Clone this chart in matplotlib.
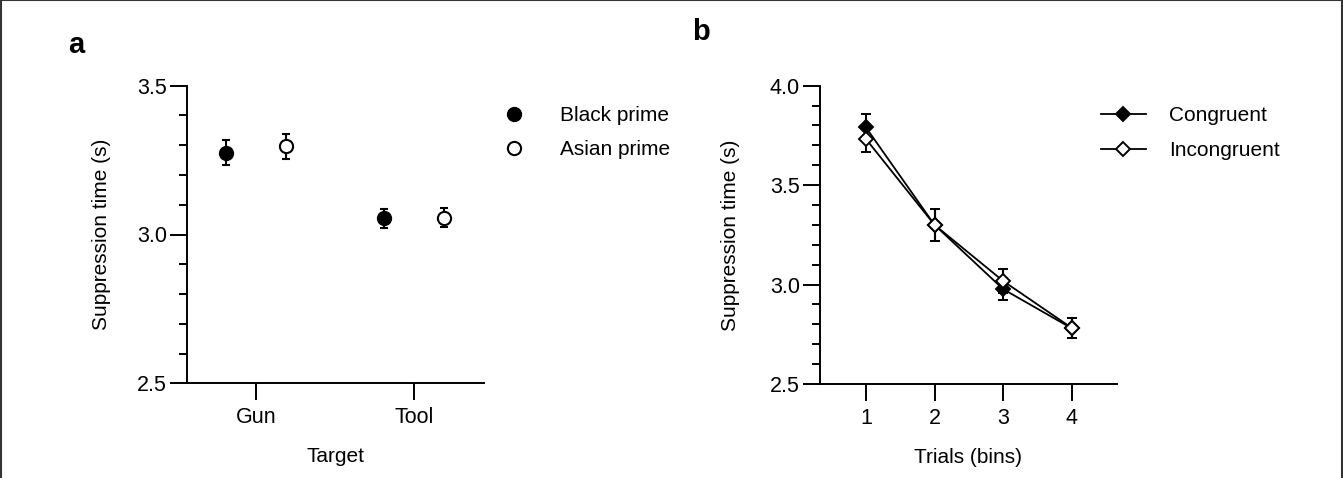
import matplotlib
matplotlib.use("Agg")
import matplotlib.pyplot as plt
from matplotlib.lines import Line2D
from matplotlib.ticker import MultipleLocator

# panel a: suppression time by target and prime
targets = ["Gun", "Tool"]
black_mean = [3.275, 3.055]
black_err = [0.043, 0.032]
asian_mean = [3.296, 3.057]
asian_err = [0.042, 0.032]

# panel b: suppression time across trial bins
bins = [1, 2, 3, 4]
congruent_mean = [3.79, 3.30, 2.977, 2.78]
congruent_err = [0.068, 0.082, 0.057, 0.05]
incongruent_mean = [3.732, 3.30, 3.018, 2.782]
incongruent_err = [0.066, 0.082, 0.06, 0.05]

plt.rcParams.update(
    {
        "font.family": ["Liberation Sans", "DejaVu Sans"],
        "font.size": 15,
        "axes.linewidth": 1.4,
    }
)

W, H = 1343, 478


def style(ax) -> None:
    ax.spines["top"].set_visible(False)
    ax.spines["right"].set_visible(False)
    ax.tick_params(which="major", length=12, width=1.4, pad=2.5, labelsize=15.5, direction="out")
    ax.tick_params(which="minor", length=6, width=1.4, direction="out")
    ax.tick_params(axis="x", which="major", pad=5)


fig = plt.figure(figsize=(W / 100, H / 100), dpi=100)
ax_a = fig.add_axes([187 / W, 1 - 383.3 / H, 297 / W, 297.6 / H])
ax_b = fig.add_axes([820 / W, 1 - 384 / H, 297 / W, 298.3 / H])

# ---- panel a
off = 0.19
xg = range(len(targets))
ax_a.errorbar([x - off for x in xg], black_mean, yerr=black_err, fmt="o", color="black",
              markersize=9.5, markerfacecolor="black", markeredgewidth=1.5,
              elinewidth=1.5, capsize=2.9, capthick=1.6, zorder=3)
ax_a.errorbar([x + off for x in xg], asian_mean, yerr=asian_err, fmt="o", color="black",
              markersize=9.5, markerfacecolor="white", markeredgewidth=1.5,
              elinewidth=1.5, capsize=2.9, capthick=1.6, zorder=3)
ax_a.set_xlim(-0.437, 1.443)
ax_a.set_ylim(2.5, 3.5)
ax_a.set_xticks(list(xg))
ax_a.set_xticklabels(targets)
ax_a.set_yticks([2.5, 3.0, 3.5])
ax_a.yaxis.set_minor_locator(MultipleLocator(0.1))
ax_a.set_ylabel("Suppression time (s)")
ax_a.set_xlabel("Target")
ax_a.yaxis.set_label_coords(-0.255, 0.5)
ax_a.xaxis.set_label_coords(0.5, -0.213)
ax_a.yaxis.label.set_va("bottom")
ax_a.xaxis.label.set_va("top")
style(ax_a)

handles_a = [
    Line2D([], [], marker="o", ls="none", color="black", markerfacecolor="black",
           markersize=9.5, markeredgewidth=1.5),
    Line2D([], [], marker="o", ls="none", color="black", markerfacecolor="white",
           markersize=9.5, markeredgewidth=1.5),
]
fig.legend(handles_a, ["Black prime", "Asian prime"], loc="upper left",
           bbox_to_anchor=(492 / W, 1 - 106 / H), frameon=False, borderpad=0,
           borderaxespad=0, handlelength=2.15, handletextpad=1.1, labelspacing=0.72,
           fontsize=15)

# ---- panel b
ax_b.errorbar(bins, congruent_mean, yerr=congruent_err, fmt="-D", color="black",
              markersize=7, markerfacecolor="black", markeredgewidth=1.4, linewidth=1.3,
              elinewidth=1.5, capsize=3.6, capthick=2.2, zorder=3)
ax_b.errorbar(bins, incongruent_mean, yerr=incongruent_err, fmt="-D", color="black",
              markersize=7, markerfacecolor="white", markeredgewidth=1.4, linewidth=1.3,
              elinewidth=1.5, capsize=3.6, capthick=2.2, zorder=4)
ax_b.set_xlim(0.33, 4.66)
ax_b.set_ylim(2.5, 4.0)
ax_b.set_xticks(bins)
ax_b.set_yticks([2.5, 3.0, 3.5, 4.0])
ax_b.yaxis.set_minor_locator(MultipleLocator(0.1))
ax_b.set_ylabel("Suppression time (s)")
ax_b.set_xlabel("Trials (bins)")
ax_b.yaxis.set_label_coords(-0.27, 0.5)
ax_b.xaxis.set_label_coords(0.5, -0.213)
ax_b.yaxis.label.set_va("bottom")
ax_b.xaxis.label.set_va("top")
style(ax_b)

handles_b = [
    Line2D([], [], marker="D", color="black", markerfacecolor="black",
           markersize=7, markeredgewidth=1.4, linewidth=1.3),
    Line2D([], [], marker="D", color="black", markerfacecolor="white",
           markersize=7, markeredgewidth=1.4, linewidth=1.3),
]
fig.legend(handles_b, ["Congruent", "Incongruent"], loc="upper left",
           bbox_to_anchor=(1101 / W, 1 - 106 / H), frameon=False, borderpad=0,
           borderaxespad=0, handlelength=2.15, handletextpad=1.1, labelspacing=0.78,
           fontsize=15)

# panel letters
fig.text(76 / W, 1 - 45 / H, "a", fontsize=21, fontweight="bold", ha="center", va="center")
fig.text(701 / W, 1 - 32 / H, "b", fontsize=21, fontweight="bold", ha="center", va="center")

# figure frame (top, left, right)
for xs, ys in [((0, 1), (0.999, 0.999)), ((0.0005, 0.0005), (0, 1)), ((0.9995, 0.9995), (0, 1))]:
    fig.add_artist(Line2D(xs, ys, transform=fig.transFigure, color="#333333", linewidth=1.5))

fig.savefig("out.png", dpi=100)
